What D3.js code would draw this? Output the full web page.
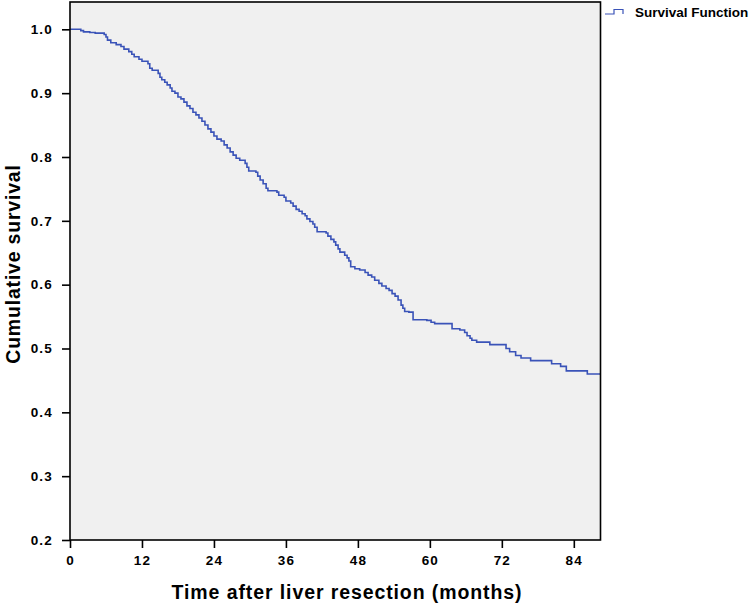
<!DOCTYPE html>
<html><head><meta charset="utf-8">
<script src="https://cdn.jsdelivr.net/npm/d3@7"></script>
<style>body{margin:0;background:#fff;} svg{display:block;font-family:"Liberation Sans",Arial,sans-serif;}</style>
</head><body>
<svg id="chart" width="751" height="606"></svg>
<script>
// Step times (months) and survival after each step
const stepTimes = [0, 1.8, 2.25, 3.3, 4.2, 5.7, 6.0, 6.25, 6.8, 7.7, 8.5, 9.0, 9.8, 10.3, 10.7, 11.5, 12.0, 13.0, 13.3, 13.7, 14.7, 15.0, 15.3, 15.8, 16.2, 16.7, 17.0, 17.5, 18.0, 18.5, 19.0, 19.5, 20.0, 20.5, 21.0, 21.5, 22.0, 22.5, 23.0, 23.5, 24.0, 24.5, 25.2, 25.7, 26.2, 26.7, 27.2, 27.7, 28.3, 29.2, 29.5, 29.8, 31.0, 31.3, 31.7, 32.2, 32.7, 33.0, 34.5, 34.8, 35.7, 36.0, 36.8, 37.2, 37.7, 38.2, 38.7, 39.2, 39.5, 40.0, 40.5, 40.8, 41.2, 42.7, 43.0, 43.5, 44.0, 44.3, 44.7, 45.0, 45.8, 46.2, 46.5, 46.8, 47.5, 48.3, 49.2, 49.7, 50.3, 50.8, 51.5, 52.0, 52.7, 53.2, 53.7, 54.2, 54.7, 55.2, 55.5, 55.8, 56.5, 57.2, 59.5, 60.2, 60.8, 63.7, 65.0, 65.8, 66.2, 66.7, 67.0, 67.8, 70.0, 72.7, 73.3, 74.3, 75.2, 76.8, 80.3, 81.8, 82.75, 86.25];
const survival = [1.000, 0.998, 0.996, 0.995, 0.994, 0.992, 0.988, 0.983, 0.979, 0.976, 0.973, 0.969, 0.965, 0.961, 0.957, 0.953, 0.950, 0.946, 0.939, 0.936, 0.931, 0.925, 0.921, 0.917, 0.913, 0.908, 0.903, 0.900, 0.894, 0.891, 0.886, 0.880, 0.876, 0.870, 0.866, 0.861, 0.856, 0.850, 0.844, 0.839, 0.833, 0.828, 0.825, 0.819, 0.814, 0.808, 0.803, 0.798, 0.795, 0.790, 0.784, 0.778, 0.776, 0.770, 0.764, 0.758, 0.751, 0.747, 0.745, 0.740, 0.737, 0.731, 0.728, 0.723, 0.718, 0.715, 0.711, 0.708, 0.703, 0.699, 0.695, 0.690, 0.683, 0.681, 0.676, 0.671, 0.667, 0.662, 0.656, 0.651, 0.646, 0.642, 0.637, 0.628, 0.625, 0.623, 0.619, 0.615, 0.612, 0.607, 0.602, 0.598, 0.594, 0.591, 0.586, 0.582, 0.576, 0.568, 0.563, 0.558, 0.557, 0.545, 0.544, 0.541, 0.539, 0.531, 0.529, 0.525, 0.520, 0.516, 0.513, 0.510, 0.506, 0.500, 0.495, 0.489, 0.485, 0.481, 0.476, 0.472, 0.465, 0.460];
const followUpEnd = 88.45;
const xTicks = [0, 12, 24, 36, 48, 60, 72, 84];
const yTicks = [0.2, 0.3, 0.4, 0.5, 0.6, 0.7, 0.8, 0.9, 1.0];
const seriesName = "Survival Function";
const xTitle = "Time after liver resection (months)";
const yTitle = "Cumulative survival";

const svg = d3.select("#chart");
const L = 70, R = 600.5, T = 2, B = 540;
const x = d3.scaleLinear().domain([0, followUpEnd]).range([L, R]);
const y = d3.scaleLinear().domain([0.2, 1.0428]).range([B, T]);

svg.append("rect").attr("x", L).attr("y", T).attr("width", R - L).attr("height", B - T)
  .attr("fill", "#f0f0f0");

const pts = stepTimes.map((t, i) => [t, survival[i]]);
pts.push([followUpEnd, survival[survival.length - 1]]);
const line = d3.line().x(d => x(d[0])).y(d => y(d[1])).curve(d3.curveStepAfter);
svg.append("path").datum(pts).attr("d", line).attr("fill", "none")
  .attr("stroke", "#3a53b8").attr("stroke-width", 1.6);

svg.append("rect").attr("x", L).attr("y", T).attr("width", R - L).attr("height", B - T)
  .attr("fill", "none").attr("stroke", "#000").attr("stroke-width", 1.6);

const xAxis = svg.append("g").attr("transform", `translate(0,${B})`)
  .call(d3.axisBottom(x).tickValues(xTicks).tickFormat(d3.format("d")).tickSize(8).tickPadding(7));
const yAxis = svg.append("g").attr("transform", `translate(${L},0)`)
  .call(d3.axisLeft(y).tickValues(yTicks).tickFormat(d3.format(".1f")).tickSize(8).tickPadding(9));
[xAxis, yAxis].forEach(g => {
  g.select(".domain").remove();
  g.selectAll("line").attr("stroke", "#000").attr("stroke-width", 1.6);
  g.selectAll("text").attr("fill", "#000").attr("font-size", 13.5).attr("font-weight", "bold")
    .attr("letter-spacing", "1.2px").attr("font-family", "Liberation Sans, Arial, sans-serif");
});

svg.append("text").attr("x", 347).attr("y", 599).attr("text-anchor", "middle")
  .attr("font-size", 19.5).attr("font-weight", "bold").attr("letter-spacing", "0.9px").text(xTitle);
svg.append("text").attr("transform", `translate(20,264) rotate(-90)`)
  .attr("text-anchor", "middle").attr("font-size", 19.5).attr("font-weight", "bold")
  .attr("letter-spacing", "0.8px").text(yTitle);

// legend
const lg = svg.append("g");
lg.append("path").attr("d", `M605,14 H614 V9.5 H623 V14`).attr("fill", "none")
  .attr("stroke", "#3a53b8").attr("stroke-width", 1.2);
lg.append("text").attr("x", 635).attr("y", 16.5).attr("font-size", 13.5).attr("font-weight", "bold")
  .text(seriesName);
</script>
</body></html>
